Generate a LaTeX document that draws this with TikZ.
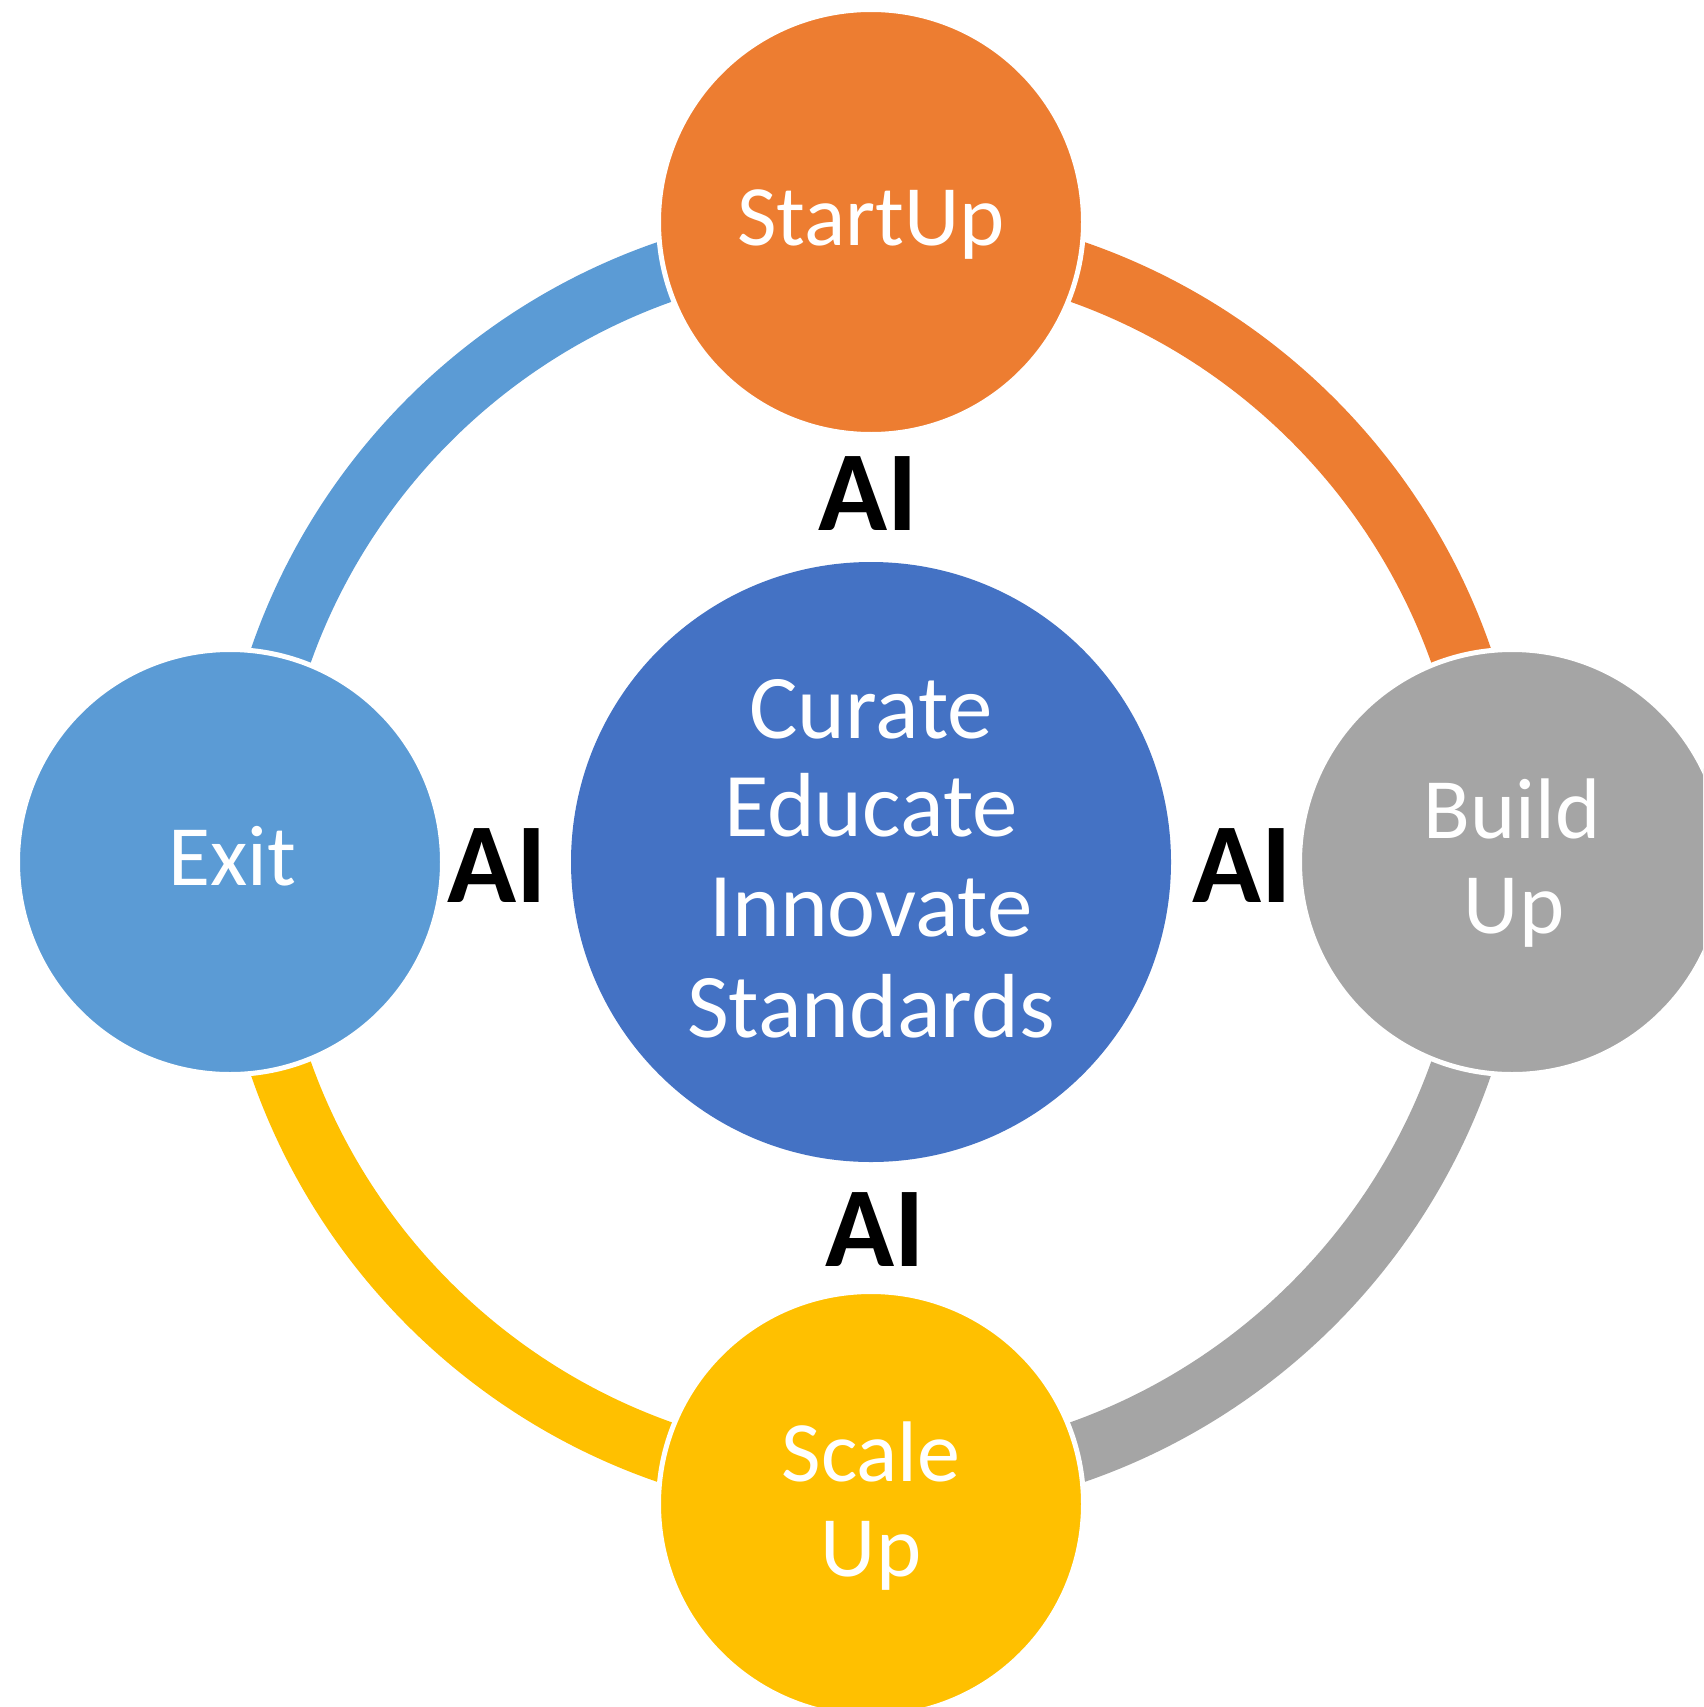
\documentclass[tikz,border=0pt]{standalone}
\usepackage{fontspec}
\setmainfont{Carlito}
\definecolor{cOrange}{HTML}{ED7D31}
\definecolor{cBlue}{HTML}{4472C4}
\definecolor{cLight}{HTML}{5B9BD5}
\definecolor{cGrey}{HTML}{A5A5A5}
\definecolor{cGold}{HTML}{FFC000}
\tikzset{
  sat/.style={circle, minimum size=425pt, inner sep=0pt, outer sep=0pt, draw=white, line width=5pt, fill=#1},
  hub/.style={circle, minimum size=600pt, inner sep=0pt, outer sep=0pt, fill=cBlue},
  ring/.style={line width=61pt, draw=#1},
  sattext/.style={anchor=base, text=white, font=\fontsize{86}{95}\selectfont, inner sep=0pt},
  hubtext/.style={anchor=base, text=white, font=\fontsize{91}{100}\selectfont, inner sep=0pt},
  ailabel/.style={anchor=base, text=black, font=\fontsize{114}{120}\selectfont\bfseries, inner sep=0pt},
}
\begin{document}
\begin{tikzpicture}[x=1pt,y=-1pt]
\fill[white] (0,0) rectangle (1703,1707);
\useasboundingbox (0,0) rectangle (1703,1707);
\clip (0,0) rectangle (1703,1707);
\coordinate (O) at (871,862);
\coordinate (rT) at (871,237);
\coordinate (rR) at (1496,862);
\coordinate (rB) at (871,1487);
\coordinate (rL) at (246,862);
% ring segments
\draw[ring=cLight] (rT) arc[start angle=270, end angle=180, radius=625];
\draw[ring=cOrange] (rT) arc[start angle=270, end angle=360, radius=625];
\draw[ring=cGrey] (rR) arc[start angle=0, end angle=90, radius=625];
\draw[ring=cGold] (rB) arc[start angle=90, end angle=180, radius=625];
% circles
\node[hub] (hub) at (O) {};
\node[sat=cOrange] (startup) at (871,222) {};
\node[sat=cGrey] (buildup) at (1512,862) {};
\node[sat=cGold] (scaleup) at (871,1504) {};
\node[sat=cLight] (exit) at (230,862) {};
% texts
\node[sattext] (tStart) at (871,245) {StartUp};
\node[sattext] (tExit) at (232,885) {Exit};
\node[sattext] (tBuild) at (1512,838) {Build};
\node[sattext] (tBuildUp) at (1514,933) {Up};
\node[sattext] (tScale) at (871,1481) {Scale};
\node[sattext] (tScaleUp) at (871,1576) {Up};
\node[hubtext] (tCur) at (871,738) {Curate};
\node[hubtext] (tEdu) at (871,836) {Educate};
\node[hubtext] (tInn) at (871,936) {Innovate};
\node[hubtext] (tSta) at (871,1037) {Standards};
% AI labels
\node[ailabel] (aiT) at (868,530) {AI};
\node[ailabel] (aiL) at (497,902) {AI};
\node[ailabel] (aiR) at (1242,902) {AI};
\node[ailabel] (aiB) at (875,1266) {AI};
\end{tikzpicture}
\end{document}
